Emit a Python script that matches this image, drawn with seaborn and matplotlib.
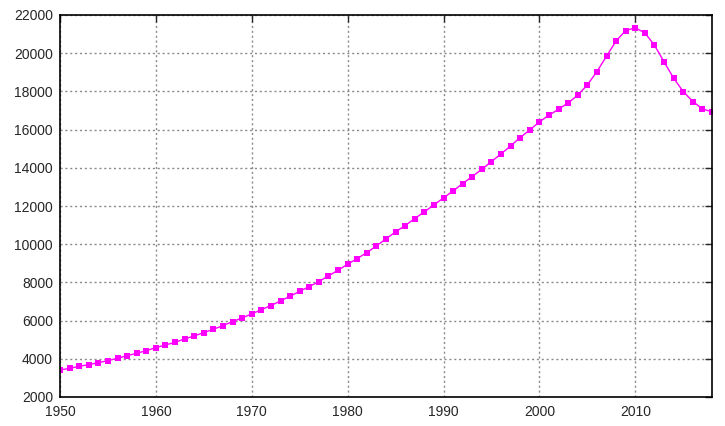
import matplotlib
matplotlib.use("Agg")
import matplotlib.pyplot as plt
import seaborn as sns
import pandas as pd

years = list(range(1950, 2019))
population = [
    3415, 3502, 3607, 3694, 3799, 3904, 4026, 4166, 4288, 4428,
    4585, 4725, 4865, 5039, 5197, 5371, 5546, 5738, 5948, 6140,
    6349, 6576, 6786, 7031, 7275, 7537, 7782, 8044, 8341, 8638,
    8952, 9249, 9560, 9913, 10279, 10646, 10977, 11344, 11693, 12059,
    12426, 12792, 13176, 13543, 13927, 14328, 14729, 15148, 15585, 15986,
    16405, 16754, 17068, 17400, 17801, 18342, 19040, 19843, 20646, 21187,
    21326, 21065, 20419, 19546, 18691, 17993, 17470, 17086, 16929,
]
x_ticks = [1950, 1960, 1970, 1980, 1990, 2000, 2010]
y_ticks = list(range(2000, 22001, 2000))

df = pd.DataFrame({"year": years, "population": population})

sns.set_style("white")
plt.rcParams["font.family"] = ["Liberation Sans", "DejaVu Sans"]

fig = plt.figure(figsize=(7.25, 4.26), dpi=100)
ax = fig.add_axes([60 / 725, 1 - 397 / 426, 652 / 725, 382 / 426])

sns.lineplot(data=df, x="year", y="population", ax=ax, color="#ff00ff",
             marker="s", markersize=4.5, markeredgewidth=0, linewidth=1)

ax.set_xlim(1950, 2018)
ax.set_ylim(2000, 22000)
ax.set_xticks(x_ticks)
ax.set_yticks(y_ticks)
ax.set_xlabel("")
ax.set_ylabel("")
ax.grid(True, color="#8a8a8a", linestyle=(0, (1.5, 2)), linewidth=1)
ax.tick_params(direction="in", length=5, width=1, top=True, right=True,
               labelsize=10, labelcolor="#262626")
ax.tick_params(axis="x", pad=6)
ax.tick_params(axis="y", pad=5)
for s in ax.spines.values():
    s.set_color("black")
    s.set_linewidth(1.2)
    s.set_visible(True)

fig.savefig("out.png", dpi=100)
